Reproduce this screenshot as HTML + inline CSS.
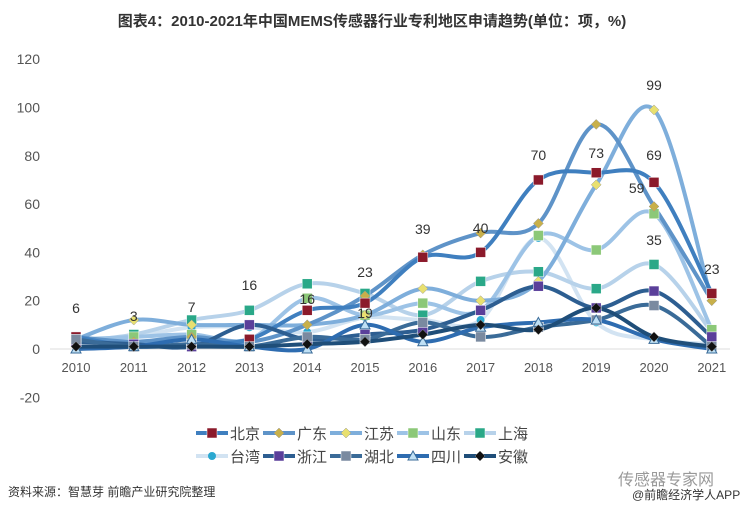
<!DOCTYPE html>
<html><head><meta charset="utf-8"><style>
body{margin:0;background:#fff;width:745px;height:514px;overflow:hidden;font-family:"Liberation Sans","Noto Sans CJK SC",sans-serif}
svg text{font-family:"Liberation Sans","Noto Sans CJK SC",sans-serif}
</style></head><body>
<svg id="s" width="745" height="514" xmlns="http://www.w3.org/2000/svg">
<text x="372" y="26" text-anchor="middle" font-size="15" font-weight="bold" fill="#333">图表4：2010-2021年中国MEMS传感器行业专利地区申请趋势(单位：项，%)</text>
<g id="ax" font-size="14" fill="#555"></g>
<g id="ln"></g>
<g id="lb" font-size="14" fill="#333"></g>
<g id="lg" font-size="15" fill="#444"></g>
<text x="8" y="496" font-size="12" fill="#333">资料来源：智慧芽 前瞻产业研究院整理</text>
<text x="618" y="485" font-size="16" fill="#999">传感器专家网</text>
<text x="632" y="499" font-size="12" fill="#333">@前瞻经济学人APP</text>
</svg>
<script>
const NS="http://www.w3.org/2000/svg";
function el(p,t,a,txt){const e=document.createElementNS(NS,t);for(const k in a)e.setAttribute(k,a[k]);if(txt!=null)e.textContent=txt;document.getElementById(p).appendChild(e);return e;}
const X=i=>76+i*57.8, Y=v=>349-v*2.415;
for(let v=-20;v<=120;v+=20){el("ax","text",{x:40,y:Y(v)+5,"text-anchor":"end"},v);}
el("ax","line",{x1:50,x2:730,y1:349,y2:349,stroke:"#ddd"});
for(let i=0;i<12;i++)el("ax","text",{x:X(i),y:372,"text-anchor":"middle","font-size":13},2010+i);
const S=[
["北京","#3f7fbf","sq","#8b1a2b",[5,1,2,4,16,19,38,40,70,73,69,23]],
["广东","#5e93c8","di","#c8b04a",[5,3,5,3,10,22,39,48,52,93,59,20]],
["江苏","#7eaedb","di","#e8e070",[4,12,10,10,10,14,25,20,28,68,99,20]],
["山东","#9dc3e6","sq","#8cc878",[4,5,6,4,21,14,19,16,47,41,56,8]],
["上海","#b7d2ea","sq","#2aa888",[3,6,12,16,27,23,14,28,32,25,35,7]],
["台湾","#d2e3f2","ci","#2aa8d0",[2,5,9,9,7,13,12,12,46,11,4,2]],
["浙江","#2d5e91","sq","#5a3f9a",[3,2,1,10,4,6,8,16,26,17,24,5]],
["湖北","#3a6b98","sq","#7a8aa0",[4,1,2,1,5,4,11,5,9,12,18,1]],
["四川","#2e6cb0","tr","#bfe0f5",[0,1,4,1,0,10,3,9,11,12,4,0]],
["安徽","#1f4e79","di","#111",[1,1,1,1,2,3,6,10,8,17,5,1]]];
function path(d){const p=d.map((v,i)=>[X(i),Y(v)]);let s="M"+p[0];for(let i=0;i<p.length-1;i++){const a=p[i-1]||p[i],b=p[i],c=p[i+1],e=p[i+2]||c;s+=`C${b[0]+(c[0]-a[0])/6},${b[1]+(c[1]-a[1])/6} ${c[0]-(e[0]-b[0])/6},${c[1]-(e[1]-b[1])/6} ${c[0]},${c[1]}`;}return s;}
function mk(g,t,x,y,f){if(t=="sq")el(g,"rect",{x:x-5,y:y-5,width:10,height:10,fill:f,stroke:"#fff","stroke-width":0.5});
else if(t=="di")el(g,"polygon",{points:`${x},${y-5} ${x+5},${y} ${x},${y+5} ${x-5},${y}`,fill:f,stroke:"#999","stroke-width":0.5});
else if(t=="ci")el(g,"circle",{cx:x,cy:y,r:4,fill:f});
else el(g,"polygon",{points:`${x},${y-5} ${x+5},${y+4} ${x-5},${y+4}`,fill:f,stroke:"#3a6b98"});}
const order=[5,4,3,2,1,0,6,7,8,9];
for(const k of order){const s=S[k];el("ln","path",{d:path(s[4]),fill:"none",stroke:s[1],"stroke-width":4});}
for(const k of order){const s=S[k];s[4].forEach((v,i)=>mk("ln",s[2],X(i),Y(v),s[3]));}
[[0,6,313],[1,3,321],[2,7,312],[3,16,290],[4,16,304],[5,23,277],[5,19,318],[6,39,234],[7,40,233],[8,70,160],[9,73,158],[10,99,90],[10,69,160],[9.7,59,193],[10,35,245],[11,23,274]].forEach(a=>el("lb","text",{x:X(a[0]),y:a[2],"text-anchor":"middle"},a[1]));
S.forEach((s,i)=>{const r=Math.floor(i/5),c=i%5;const x=196+c*67,y=433+r*23;
el("lg","line",{x1:x,x2:x+32,y1:y,y2:y,stroke:s[1],"stroke-width":4});mk("lg",s[2],x+16,y,s[3]);
el("lg","text",{x:x+34,y:y+6},s[0]);});
</script>
</body></html>
